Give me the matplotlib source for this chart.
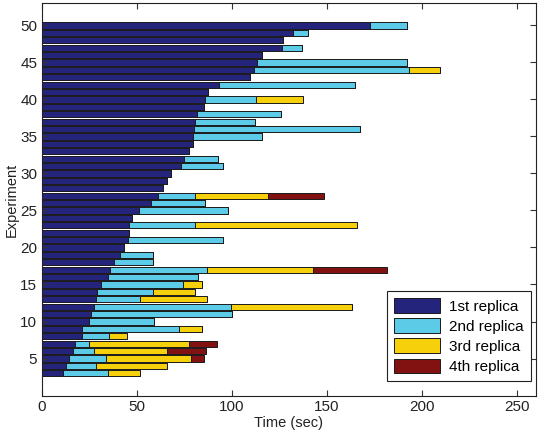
import matplotlib
matplotlib.use("Agg")
import matplotlib.pyplot as plt
import numpy as np

plt.rcParams['font.family'] = ['Liberation Sans', 'DejaVu Sans']

experiments = list(range(3, 51))
replica1 = [11.2, 12.5, 14.4, 16.5, 17.4, 20.9, 20.9, 24.7, 25.8, 27.4,
            28.4, 29.1, 30.9, 34.9, 35.8, 37.9, 41.1, 43.3, 45.3, 45.8,
            45.8, 47.4, 51.1, 57.2, 61.2, 63.7, 65.6, 67.9, 72.9, 74.7,
            77.4, 79.5, 79.5, 80.0, 80.5, 81.6, 85.3, 85.8, 87.4, 93.2,
            109.5, 111.6, 113.2, 115.8, 126.3, 126.8, 132.1, 172.6]
replica2 = [23.7, 15.8, 19.1, 10.9, 7.5, 14.4, 51.2, 34.2, 74.0, 71.9,
            23.2, 29.2, 43.2, 47.4, 51.2, 20.4, 17.5, 0, 49.8, 0,
            34.7, 0, 47.0, 28.6, 19.3, 0, 0, 0, 22.4, 17.7,
            0, 0, 36.3, 87.4, 31.6, 44.2, 0, 26.8, 0, 71.5,
            0, 81.6, 78.9, 0, 10.5, 0, 7.9, 19.5]
replica3 = [16.7, 37.6, 44.9, 38.2, 52.5, 9.6, 12.0, 0, 0, 63.9,
            35.4, 22.2, 10.0, 0, 55.8, 0, 0, 0, 0, 0,
            85.1, 0, 0, 0, 38.3, 0, 0, 0, 0, 0,
            0, 0, 0, 0, 0, 0, 0, 24.8, 0, 0,
            0, 16.3, 0, 0, 0, 0, 0, 0]
replica4 = [0, 0, 6.9, 20.7, 14.5, 0, 0, 0, 0, 0,
            0, 0, 0, 0, 38.6, 0, 0, 0, 0, 0,
            0, 0, 0, 0, 29.8, 0, 0, 0, 0, 0,
            0, 0, 0, 0, 0, 0, 0, 0, 0, 0,
            0, 0, 0, 0, 0, 0, 0, 0]
labels = ['1st replica', '2nd replica', '3rd replica', '4th replica']
colors = ['#24247c', '#5ccbe8', '#f7d00c', '#821212']

fig = plt.figure(figsize=(5.46, 4.33), dpi=100)
ax = fig.add_axes([0.0769, 0.0866, 0.9048, 0.9058])

series = [replica1, replica2, replica3, replica4]
left = np.zeros(len(experiments))
for vals, lab, col in zip(series, labels, colors):
    vals = np.array(vals, dtype=float)
    ax.barh(experiments, vals, left=left, height=0.84, color=col,
            edgecolor='#1a1a1a', linewidth=0.7, label=lab)
    left = left + vals

ax.set_xlim(0, 260)
ax.set_ylim(0, 53)
ax.set_xticks([0, 50, 100, 150, 200, 250])
ax.set_yticks([5, 10, 15, 20, 25, 30, 35, 40, 45, 50])
ax.tick_params(direction='in', top=True, right=True, labelsize=11,
               length=4, width=0.8, color='#333333', labelcolor='#222222')
for s in ax.spines.values():
    s.set_linewidth(0.8)
    s.set_color('#222222')
ax.set_xlabel('Time (sec)', fontsize=10.5, color='#222222', labelpad=1)
ax.set_ylabel('Experiment', fontsize=10.5, color='#222222', labelpad=1)

leg = ax.legend(loc='lower right', bbox_to_anchor=(0.989, 0.037),
                borderaxespad=0, fontsize=11, frameon=True, fancybox=False,
                framealpha=1, edgecolor='#222222', handlelength=3.0,
                handleheight=1.1, borderpad=0.45, labelspacing=0.3,
                handletextpad=0.6)
leg.get_frame().set_linewidth(0.8)

fig.savefig('out.png', dpi=100)
